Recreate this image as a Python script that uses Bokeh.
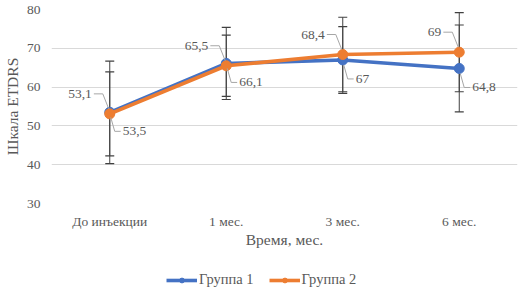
from bokeh.plotting import figure
from bokeh.layouts import column
from bokeh.models import Range1d, FixedTicker, Whisker, TeeHead, ColumnDataSource, Legend, LegendItem
from bokeh.embed import file_html
from bokeh.resources import INLINE
from bokeh.core.properties import value

categories = ["До инъекции", "1 мес.", "3 мес.", "6 мес."]
group1 = [53.5, 66.1, 67.0, 64.8]
group1_sd = [13.2, 9.3, 8.6, 11.2]
group2 = [53.1, 65.5, 68.4, 69.0]
group2_sd = [10.8, 7.9, 9.6, 10.2]
labels1 = ["53,5", "66,1", "67", "64,8"]
labels2 = ["53,1", "65,5", "68,4", "69"]
y_ticks = [30, 40, 50, 60, 70, 80]
series_names = ["Группа 1", "Группа 2"]

FONT = "Liberation Serif"
GRAY = "#595959"
BLUE = "#4472C4"
ORANGE = "#ED7D31"

W, H = 522, 262
TOP, BOTTOM, LEFT, RIGHT = 9, 59, 48, 5
p = figure(width=W, height=H, x_range=Range1d(-0.5, 3.5), y_range=Range1d(30, 80),
           output_backend="svg", toolbar_location=None,
           min_border_left=LEFT, min_border_right=RIGHT, min_border_top=TOP,
           min_border_bottom=BOTTOM)
p.outline_line_color = None
p.background_fill_color = "white"

xs = list(range(len(categories)))
p.xaxis.ticker = FixedTicker(ticks=xs)
p.xaxis.major_label_overrides = {i: c for i, c in enumerate(categories)}
p.yaxis.ticker = FixedTicker(ticks=y_ticks)
p.xgrid.visible = False
p.ygrid.grid_line_color = "#d9d9d9"
p.ygrid.grid_line_width = 1
for ax in (p.xaxis, p.yaxis):
    ax.axis_line_color = None
    ax.major_tick_line_color = None
    ax.minor_tick_line_color = None
    ax.major_tick_out = 0
    ax.major_tick_in = 0
    ax.major_label_text_font = FONT
    ax.major_label_text_color = GRAY
    ax.major_label_text_font_size = "13.5px"
    ax.axis_label_text_font = FONT
    ax.axis_label_text_color = GRAY
    ax.axis_label_text_font_size = "15.5px"
    ax.axis_label_text_font_style = "normal"
p.xaxis.axis_label = "Время, мес."
p.yaxis.axis_label = "Шкала ETDRS"
p.yaxis.major_label_standoff = 11
p.yaxis.axis_label_standoff = 3
p.xaxis.major_label_standoff = 10
p.xaxis.axis_label_standoff = -1

# error bars
for vals, sds in ((group1, group1_sd), (group2, group2_sd)):
    src = ColumnDataSource(dict(x=xs, lo=[v - s for v, s in zip(vals, sds)],
                                hi=[v + s for v, s in zip(vals, sds)]))
    w = Whisker(source=src, base="x", lower="lo", upper="hi", dimension="height",
                line_color="#404040", line_width=1,
                upper_head=TeeHead(size=9, line_color="#404040", line_width=1.2),
                lower_head=TeeHead(size=9, line_color="#404040", line_width=1.2))
    p.add_layout(w)

# lines
p.line(xs, group1, line_color=BLUE, line_width=3.6)
p.scatter(xs, group1, size=10, fill_color=BLUE, line_color=BLUE)
p.line(xs, group2, line_color=ORANGE, line_width=3.6)
p.scatter(xs, group2, size=10, fill_color=ORANGE, line_color=ORANGE)

# data labels with leader lines (offsets in pixels converted to data units)
fw = W - LEFT - RIGHT
fh = H - TOP - BOTTOM
pxx = 4.0 / fw
pxy = 50.0 / fh

lead_x, lead_y = [], []
for x, v in zip(xs, group2):
    lead_x.append([x - 1 * pxx, x - 7 * pxx, x - 16 * pxx])
    lead_y.append([v + 5 * pxy, v + 20 * pxy, v + 20 * pxy])
for x, v in zip(xs, group1):
    lead_x.append([x + 1 * pxx, x + 5 * pxx, x + 11 * pxx])
    lead_y.append([v - 5 * pxy, v - 19 * pxy, v - 19 * pxy])
p.multi_line(lead_x, lead_y, line_color="#a6a6a6", line_width=1)

p.text([x - 18 * pxx for x in xs], [v + 20 * pxy for v in group2], text=labels2,
       text_font=value(FONT), text_font_size="13.5px", text_color=GRAY,
       text_align="right", text_baseline="middle")
p.text([x + 13 * pxx for x in xs], [v - 19 * pxy for v in group1], text=labels1,
       text_font=value(FONT), text_font_size="13.5px", text_color=GRAY,
       text_align="left", text_baseline="middle")

# legend strip below the chart (series drawn outside the visible range,
# only their legend swatches are shown)
lg = figure(width=W, height=29, x_range=Range1d(0, 1), y_range=Range1d(0, 1),
            x_axis_type=None, y_axis_type=None, output_backend="svg",
            toolbar_location=None, min_border=0)
lg.outline_line_color = None
lg_items = []
for name, col, vals in zip(series_names, (BLUE, ORANGE), (group1, group2)):
    r1 = lg.line(xs, vals, line_color=col, line_width=3.6)
    r2 = lg.scatter(xs, vals, size=10, fill_color=col, line_color=col)
    lg_items.append(LegendItem(label=name, renderers=[r1, r2]))
legend = Legend(items=lg_items, orientation="horizontal", location=(115, 3),
                label_text_font=FONT, label_text_color=GRAY, label_text_font_size="14.5px",
                glyph_width=31, glyph_height=12, label_standoff=2, spacing=15,
                padding=0, margin=0, border_line_color=None, background_fill_alpha=0)
lg.add_layout(legend, "center")

layout = column(p, lg, spacing=0)
open("out.html", "w").write(file_html(layout, INLINE))
